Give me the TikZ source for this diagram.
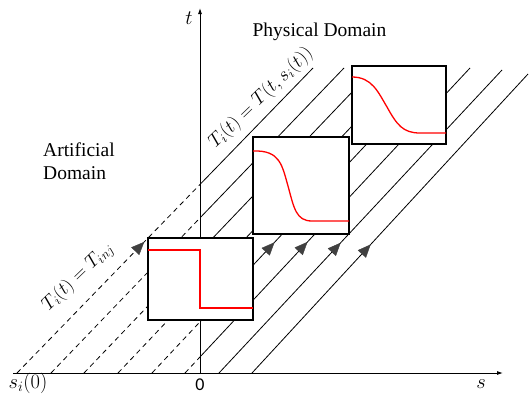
\documentclass[tikz,border=0pt]{standalone}
\usepackage{fix-cm}
\usepackage{amsmath}
\usepackage{fontspec}
\setmainfont{Liberation Serif}
\newfontfamily\zerofont{Carlito}
\usetikzlibrary{arrows.meta, positioning, calc, fit, decorations.markings}

\tikzset{
  charline/.style={line width=0.8pt},
  dashpart/.style={charline, dash pattern=on 5pt off 4pt},
  flowmark/.style={decoration={markings, mark=at position 0.43 with {\arrow[black!75]{Triangle[length=13pt, width=11pt]}}}, decorate},
  axisline/.style={line width=0.9pt, -{Latex[length=6pt, width=4pt]}},
  profilebox/.style={draw, line width=1.1pt, fill=white, inner sep=0pt},
  profile/.style={red, line width=1.3pt},
  lbl/.style={font=\fontsize{19.5}{23}\selectfont, inner sep=0pt},
  mathlbl/.style={font=\fontsize{20.5}{24}\selectfont, inner sep=0pt},
}

\begin{document}
\begin{tikzpicture}[x=1pt, y=-1pt]
\useasboundingbox (0,0) rectangle (529,394);

\coordinate (origin) at (200,373);
\coordinate (send) at (503,373);
\coordinate (sstart) at (13,373);
\coordinate (tend) at (200,8);

\foreach \k/\bx/\ex/\ey in {0/17/313/68, 1/51/344/68, 2/84/375/68, 3/118/406/69,
                            4/152/437/69, 5/185/470/68, 6/219/502/70, 7/252/528/74} {
  \coordinate (b\k) at (\bx,373);
  \coordinate (e\k) at (\ex,\ey);
}

\draw[axisline] (sstart) -- (send);
\draw[axisline] (origin) -- (tend);

\begin{scope}
\clip (0,0) rectangle (200,394);
\foreach \k in {0,...,7} \draw[dashpart] (b\k) -- (e\k);
\end{scope}
\begin{scope}
\clip (200,0) rectangle (529,394);
\foreach \k in {0,...,7} \draw[charline] (b\k) -- (e\k);
\end{scope}
\foreach \k in {0,...,7} \path[flowmark] (b\k) -- (e\k);

\node[profilebox, minimum width=105pt, minimum height=82pt] (injbox) at (200.5,279) {};
\node[profilebox, minimum width=96pt, minimum height=97pt] (midbox) at (301,185.5) {};
\node[profilebox, minimum width=94pt, minimum height=78pt] (outbox) at (399,105) {};

\draw[profile] (148,250) -- (200,250) -- (200,308) -- (253,308);
\draw[profile] (253,151) .. controls (280,150) and (282,165) .. (288,186)
  .. controls (294,208) and (296,221) .. (312,221) -- (349,221);
\draw[profile] (352,77) .. controls (372,77) and (378,92) .. (387,107)
  .. controls (397,125) and (403,133) .. (420,133) -- (446,133);

\node[lbl, anchor=base] (phys) at (319.5,36) {Physical Domain};
\node[lbl, align=left, anchor=west] (artif) at (43,161) {Artificial\\Domain};
\node[mathlbl, font=\fontsize{19}{23}\selectfont, rotate=44] (injlbl) at (78,277) {$T_i(t) = T_{inj}$};
\node[mathlbl, font=\fontsize{19}{23}\selectfont, rotate=44] (traclbl) at (261,98) {$T_i(t) = T(t,s_i(t))$};
\node[mathlbl] (tlbl) at (189,18) {$t$};
\node[mathlbl] (slbl) at (481,384) {$s$};
\node[mathlbl] (silbl) at (28,383) {$s_i(0)$};
\node[lbl, font=\zerofont\fontsize{18}{22}\selectfont] (zero) at (200,385) {0};
\end{tikzpicture}
\end{document}
